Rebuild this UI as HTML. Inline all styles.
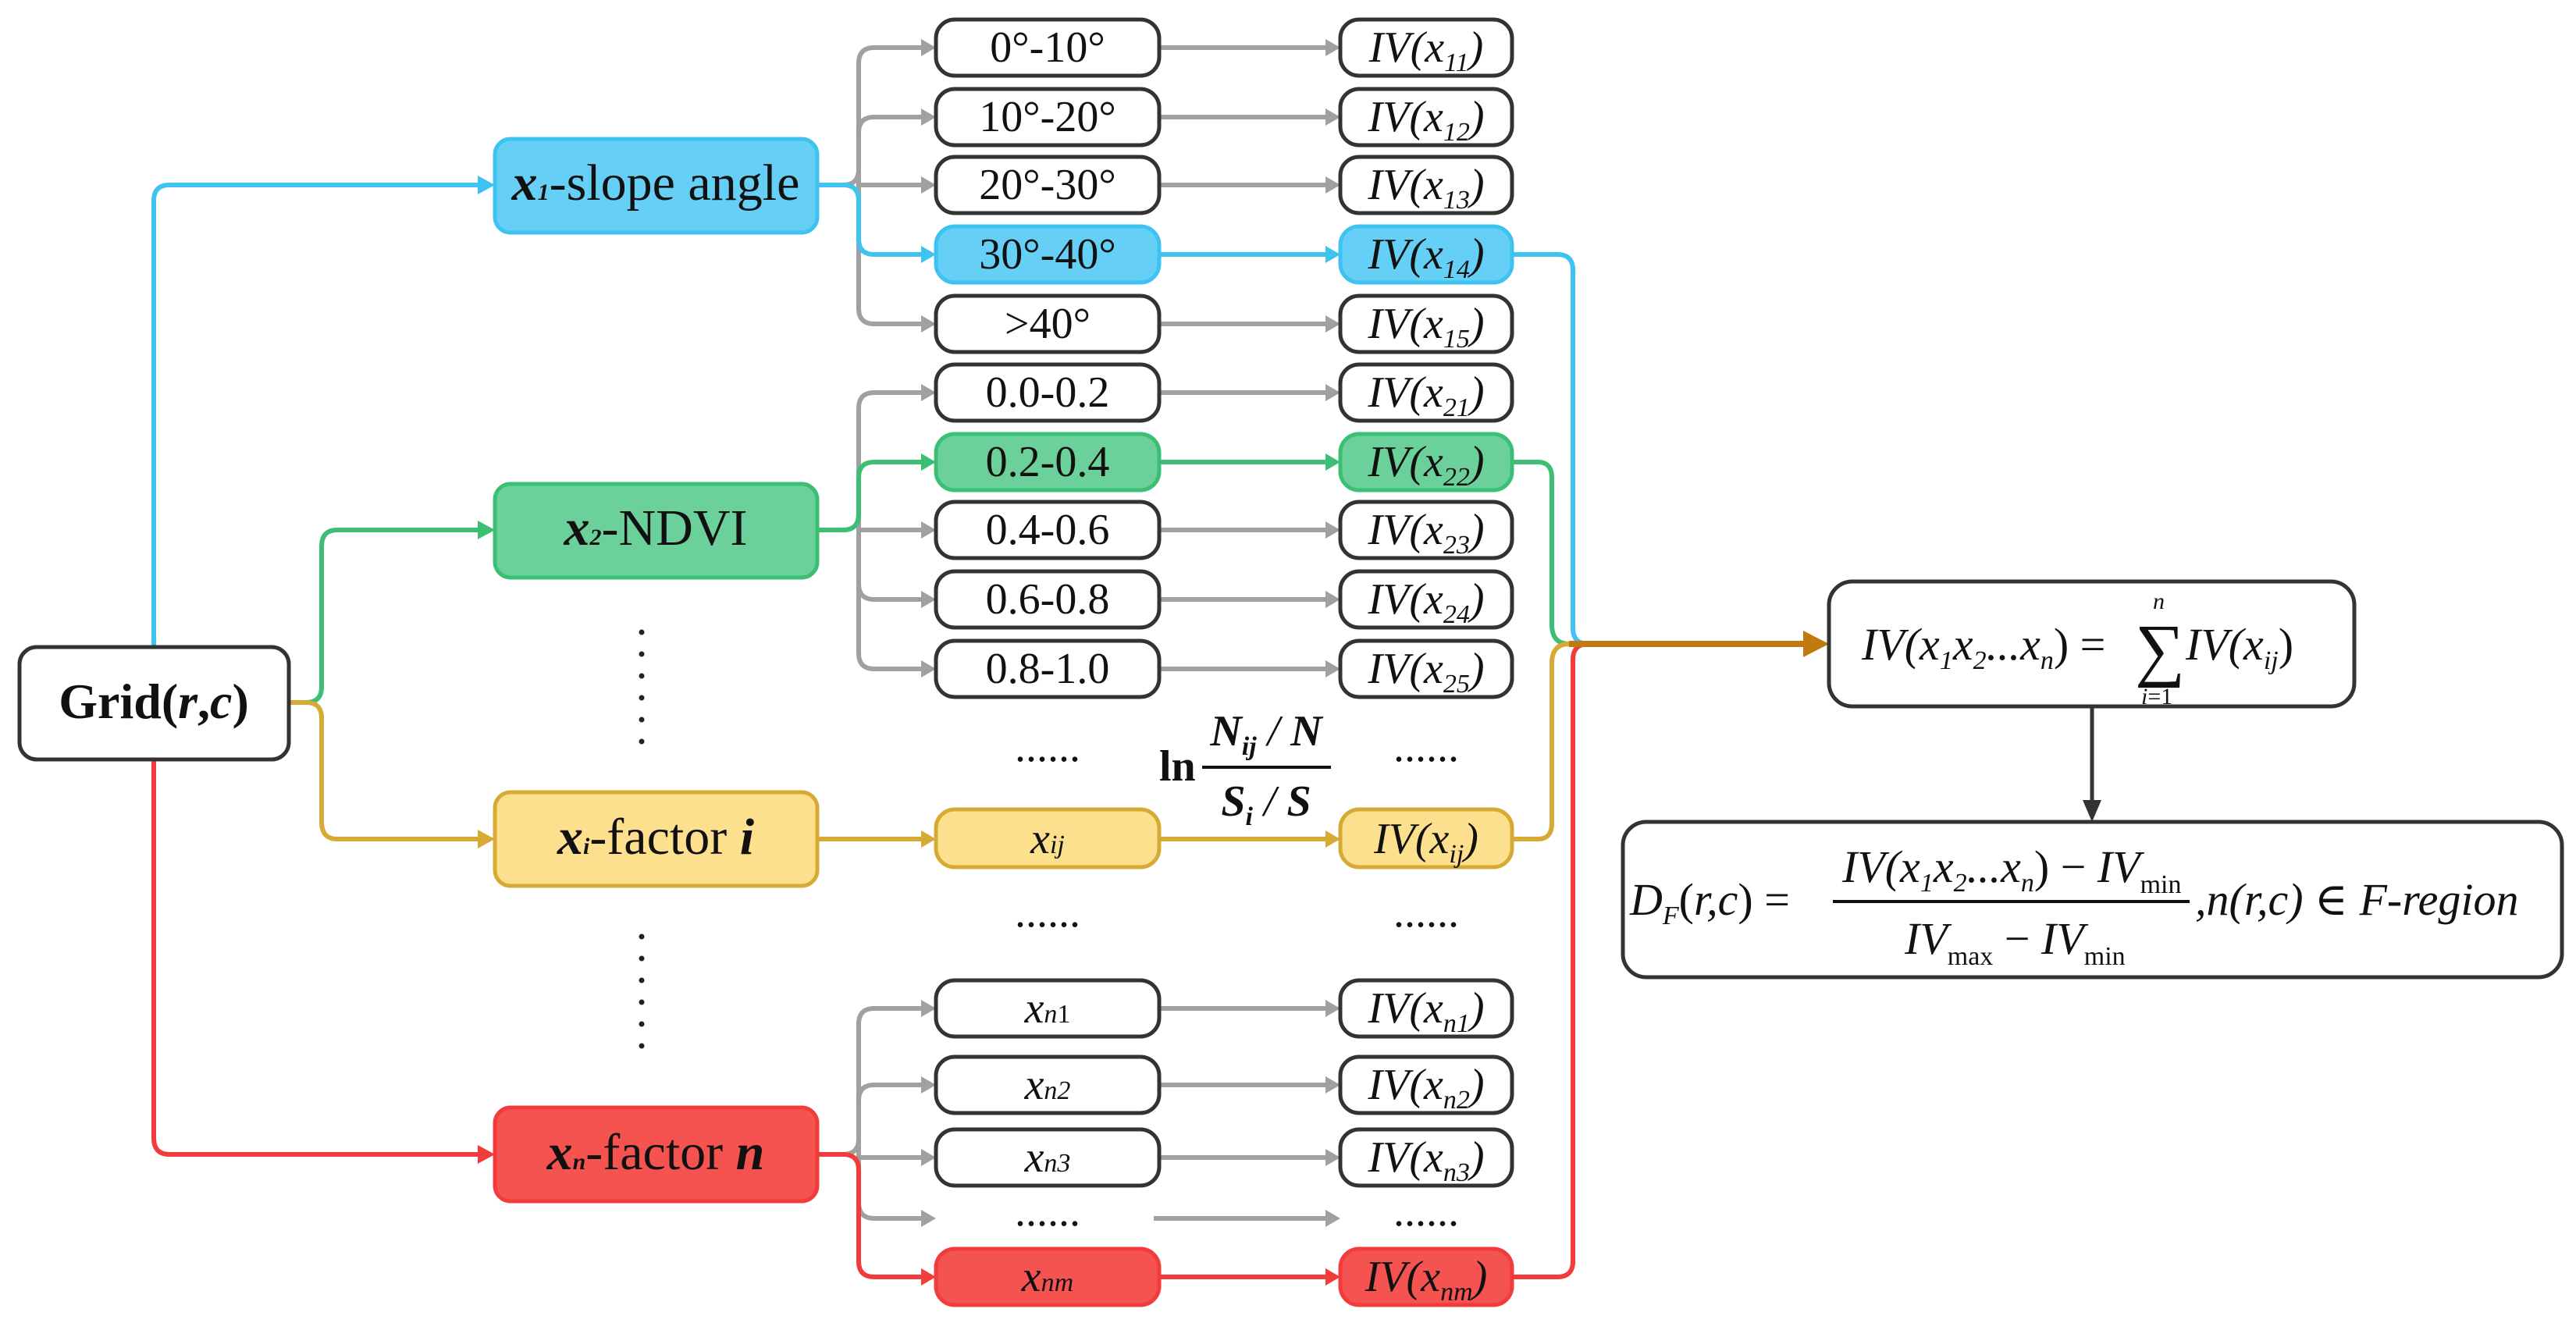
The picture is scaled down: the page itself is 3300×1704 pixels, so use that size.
<!DOCTYPE html>
<html><head><meta charset="utf-8"><style>
html,body{margin:0;padding:0;background:#fff}
svg{display:block;font-family:"Liberation Serif","DejaVu Serif",serif}
svg text{font-family:"Liberation Serif","DejaVu Serif",serif !important;fill:#111}
.m{font-size:56px;text-anchor:middle}
.i{font-style:italic}
.s{font-size:34px}
</style></head><body>
<svg width="3300" height="1704" viewBox="0 0 3300 1704" xmlns="http://www.w3.org/2000/svg" font-family="Liberation Serif, DejaVu Serif, serif">
<style>
.g{fill:none;stroke:#a0a0a0;stroke-width:6}
.bl{fill:none;stroke:#3ec3f0;stroke-width:6}
.gr{fill:none;stroke:#3cbf75;stroke-width:6}
.ye{fill:none;stroke:#d5ab35;stroke-width:6}
.re{fill:none;stroke:#f23c3c;stroke-width:6}
.br{fill:none;stroke:#c07a10;stroke-width:8}
.bx{fill:#fff;stroke:#333;stroke-width:5}
</style>

<path class="bl" d="M197 829 V257 Q197 237 217 237 H615"/>
<polygon points="634,237 612,225 612,249" fill="#3ec3f0"/>
<path class="gr" d="M370 900 H392 Q412 900 412 880 V700 Q412 679 432 679 H615"/>
<polygon points="634,679 612,667 612,691" fill="#3cbf75"/>
<path class="ye" d="M370 900 H392 Q412 900 412 920 V1053 Q412 1075 432 1075 H615"/>
<polygon points="634,1075 612,1063 612,1087" fill="#d5ab35"/>
<path class="re" d="M197 973 V1458 Q197 1479 217 1479 H615"/>
<polygon points="634,1479 612,1467 612,1491" fill="#f23c3c"/>

<g class="g">
<path d="M1047 237 H1080 Q1100 237 1100 217 V81 Q1100 61 1120 61 H1185"/>
<path d="M1100 170 Q1100 150 1120 150 H1185"/>
<path d="M1100 237 H1185"/>
<path d="M1100 217 V395 Q1100 415 1120 415 H1185"/>
<path d="M1047 679 H1080 Q1100 679 1100 659 V523 Q1100 503 1120 503 H1185"/>
<path d="M1100 679 H1185"/>
<path d="M1100 659 V837 Q1100 857 1120 857 H1185"/>
<path d="M1100 748 Q1100 768 1120 768 H1185"/>
<path d="M1047 1479 H1080 Q1100 1479 1100 1459 V1312 Q1100 1292 1120 1292 H1185"/>
<path d="M1100 1410 Q1100 1390 1120 1390 H1185"/>
<path d="M1100 1483 H1185"/>
<path d="M1100 1459 V1541 Q1100 1561 1120 1561 H1185"/>
<path d="M1485 61 H1705 M1485 150 H1705 M1485 237 H1705 M1485 415 H1705 M1485 503 H1705 M1485 679 H1705 M1485 768 H1705 M1485 857 H1705 M1485 1292 H1705 M1485 1390 H1705 M1485 1483 H1705 M1478 1561 H1705"/>
</g>
<g fill="#a0a0a0">
<polygon points="1199,61 1180,50 1180,72"/><polygon points="1199,150 1180,139 1180,161"/><polygon points="1199,237 1180,226 1180,248"/><polygon points="1199,415 1180,404 1180,426"/>
<polygon points="1199,503 1180,492 1180,514"/><polygon points="1199,679 1180,668 1180,690"/><polygon points="1199,768 1180,757 1180,779"/><polygon points="1199,857 1180,846 1180,868"/>
<polygon points="1199,1292 1180,1281 1180,1303"/><polygon points="1199,1390 1180,1379 1180,1401"/><polygon points="1199,1483 1180,1472 1180,1494"/><polygon points="1199,1561 1180,1550 1180,1572"/>
<polygon points="1717,61 1698,50 1698,72"/><polygon points="1717,150 1698,139 1698,161"/><polygon points="1717,237 1698,226 1698,248"/><polygon points="1717,415 1698,404 1698,426"/>
<polygon points="1717,503 1698,492 1698,514"/><polygon points="1717,679 1698,668 1698,690"/><polygon points="1717,768 1698,757 1698,779"/><polygon points="1717,857 1698,846 1698,868"/>
<polygon points="1717,1292 1698,1281 1698,1303"/><polygon points="1717,1390 1698,1379 1698,1401"/><polygon points="1717,1483 1698,1472 1698,1494"/><polygon points="1717,1561 1698,1550 1698,1572"/>
</g>

<path class="bl" d="M1047 237 H1080 Q1100 237 1100 257 V306 Q1100 326 1120 326 H1185 M1485 326 H1705"/>
<polygon points="1199,326 1180,315 1180,337" fill="#3ec3f0"/><polygon points="1717,326 1698,315 1698,337" fill="#3ec3f0"/>
<path class="gr" d="M1047 679 H1080 Q1100 679 1100 659 V612 Q1100 592 1120 592 H1185 M1485 592 H1705"/>
<polygon points="1199,592 1180,581 1180,603" fill="#3cbf75"/><polygon points="1717,592 1698,581 1698,603" fill="#3cbf75"/>
<path class="ye" d="M1047 1075 H1185 M1485 1075 H1705"/>
<polygon points="1199,1075 1180,1064 1180,1086" fill="#d5ab35"/><polygon points="1717,1075 1698,1064 1698,1086" fill="#d5ab35"/>
<path class="re" d="M1047 1479 H1080 Q1100 1479 1100 1499 V1616 Q1100 1636 1120 1636 H1185 M1485 1636 H1705"/>
<polygon points="1199,1636 1180,1625 1180,1647" fill="#f23c3c"/><polygon points="1717,1636 1698,1625 1698,1647" fill="#f23c3c"/>

<path class="bl" d="M1937 326 H1995 Q2015 326 2015 346 V805 Q2015 825 2035 825"/>
<path class="gr" d="M1937 592 H1970 Q1988 592 1988 612 V800 Q1988 825 2010 825"/>
<path class="ye" d="M1937 1075 H1970 Q1988 1075 1988 1055 V850 Q1988 825 2010 825"/>
<path class="re" d="M1937 1636 H1995 Q2015 1636 2015 1616 V845 Q2015 825 2035 825"/>
<path class="br" d="M2010 825 H2315"/>
<polygon points="2343,825 2310,808 2310,842" fill="#c07a10"/>
<path d="M2680 905 V1030" stroke="#333" stroke-width="5" fill="none"/>
<polygon points="2680,1053 2668,1025 2692,1025" fill="#333"/>

<rect x="25" y="829" width="345" height="144" rx="22" class="bx"/>
<text x="197" y="920" class="m" style="font-size:64px;font-weight:bold">Grid(<tspan class="i">r</tspan>,<tspan class="i">c</tspan>)</text>
<rect x="634" y="178" width="413" height="120" rx="20" fill="#66cff5" stroke="#3ec3f0" stroke-width="5"/>
<text x="840" y="256" class="m" style="font-size:66px"><tspan class="i" font-weight="bold">x</tspan><tspan font-size="30" class="i" font-weight="bold">1</tspan>-slope angle</text>
<rect x="634" y="620" width="413" height="120" rx="20" fill="#6bd09a" stroke="#3cbf75" stroke-width="5"/>
<text x="840" y="698" class="m" style="font-size:66px"><tspan class="i" font-weight="bold">x</tspan><tspan font-size="30" class="i" font-weight="bold">2</tspan>-NDVI</text>
<rect x="634" y="1015" width="413" height="120" rx="20" fill="#fde08e" stroke="#d5ab35" stroke-width="5"/>
<text x="840" y="1094" class="m" style="font-size:66px"><tspan class="i" font-weight="bold">x</tspan><tspan font-size="30" class="i" font-weight="bold">i</tspan>-factor <tspan class="i" font-weight="bold">i</tspan></text>
<rect x="634" y="1419" width="413" height="120" rx="20" fill="#f4534f" stroke="#f23c3c" stroke-width="5"/>
<text x="840" y="1498" class="m" style="font-size:66px"><tspan class="i" font-weight="bold">x</tspan><tspan font-size="30" class="i" font-weight="bold">n</tspan>-factor <tspan class="i" font-weight="bold">n</tspan></text>

<g fill="#222"><circle cx="822" cy="810" r="3.5"/><circle cx="822" cy="838" r="3.5"/><circle cx="822" cy="866" r="3.5"/><circle cx="822" cy="894" r="3.5"/><circle cx="822" cy="922" r="3.5"/><circle cx="822" cy="950" r="3.5"/>
<circle cx="822" cy="1200" r="3.5"/><circle cx="822" cy="1228" r="3.5"/><circle cx="822" cy="1256" r="3.5"/><circle cx="822" cy="1284" r="3.5"/><circle cx="822" cy="1312" r="3.5"/><circle cx="822" cy="1340" r="3.5"/></g>

<g class="bx">
<rect x="1199" y="25" width="286" height="72" rx="24"/><rect x="1199" y="114" width="286" height="72" rx="24"/><rect x="1199" y="201" width="286" height="72" rx="24"/>
<rect x="1199" y="379" width="286" height="72" rx="24"/><rect x="1199" y="467" width="286" height="72" rx="24"/>
<rect x="1199" y="643" width="286" height="72" rx="24"/><rect x="1199" y="732" width="286" height="72" rx="24"/><rect x="1199" y="821" width="286" height="72" rx="24"/>
<rect x="1199" y="1256" width="286" height="72" rx="24"/><rect x="1199" y="1354" width="286" height="72" rx="24"/><rect x="1199" y="1447" width="286" height="72" rx="24"/>
<rect x="1717" y="25" width="220" height="72" rx="24"/><rect x="1717" y="114" width="220" height="72" rx="24"/><rect x="1717" y="201" width="220" height="72" rx="24"/>
<rect x="1717" y="379" width="220" height="72" rx="24"/><rect x="1717" y="467" width="220" height="72" rx="24"/>
<rect x="1717" y="643" width="220" height="72" rx="24"/><rect x="1717" y="732" width="220" height="72" rx="24"/><rect x="1717" y="821" width="220" height="72" rx="24"/>
<rect x="1717" y="1256" width="220" height="72" rx="24"/><rect x="1717" y="1354" width="220" height="72" rx="24"/><rect x="1717" y="1447" width="220" height="72" rx="24"/>
</g>
<rect x="1199" y="290" width="286" height="72" rx="24" fill="#66cff5" stroke="#3ec3f0" stroke-width="5"/>
<rect x="1717" y="290" width="220" height="72" rx="24" fill="#66cff5" stroke="#3ec3f0" stroke-width="5"/>
<rect x="1199" y="556" width="286" height="72" rx="24" fill="#6bd09a" stroke="#3cbf75" stroke-width="5"/>
<rect x="1717" y="556" width="220" height="72" rx="24" fill="#6bd09a" stroke="#3cbf75" stroke-width="5"/>
<rect x="1199" y="1037" width="286" height="74" rx="24" fill="#fde08e" stroke="#d5ab35" stroke-width="5"/>
<rect x="1717" y="1037" width="220" height="74" rx="24" fill="#fde08e" stroke="#d5ab35" stroke-width="5"/>
<rect x="1199" y="1600" width="286" height="72" rx="24" fill="#f4534f" stroke="#f23c3c" stroke-width="5"/>
<rect x="1717" y="1600" width="220" height="72" rx="24" fill="#f4534f" stroke="#f23c3c" stroke-width="5"/>

<g class="m">
<text x="1342" y="79">0°-10°</text><text x="1342" y="168">10°-20°</text><text x="1342" y="255">20°-30°</text><text x="1342" y="344">30°-40°</text><text x="1342" y="433">&gt;40°</text>
<text x="1342" y="521">0.0-0.2</text><text x="1342" y="610">0.2-0.4</text><text x="1342" y="697">0.4-0.6</text><text x="1342" y="786">0.6-0.8</text><text x="1342" y="875">0.8-1.0</text>
<text x="1342" y="1093" class="i">x<tspan class="s">ij</tspan></text>
<text x="1342" y="1310" class="i">x<tspan class="s">n</tspan><tspan class="s" font-style="normal">1</tspan></text>
<text x="1342" y="1408" class="i">x<tspan class="s">n2</tspan></text>
<text x="1342" y="1501" class="i">x<tspan class="s">n3</tspan></text>
<text x="1342" y="1654" class="i">x<tspan class="s">nm</tspan></text>
<text x="1342" y="975">......</text><text x="1342" y="1187">......</text><text x="1342" y="1570">......</text>
<text x="1827" y="975">......</text><text x="1827" y="1187">......</text><text x="1827" y="1570">......</text>
</g>
<g class="m i">
<text x="1827" y="79">IV(x<tspan class="s" dy="12">11</tspan><tspan dy="-12">)</tspan></text>
<text x="1827" y="168">IV(x<tspan class="s" dy="12">12</tspan><tspan dy="-12">)</tspan></text>
<text x="1827" y="255">IV(x<tspan class="s" dy="12">13</tspan><tspan dy="-12">)</tspan></text>
<text x="1827" y="344">IV(x<tspan class="s" dy="12">14</tspan><tspan dy="-12">)</tspan></text>
<text x="1827" y="433">IV(x<tspan class="s" dy="12">15</tspan><tspan dy="-12">)</tspan></text>
<text x="1827" y="521">IV(x<tspan class="s" dy="12">21</tspan><tspan dy="-12">)</tspan></text>
<text x="1827" y="610">IV(x<tspan class="s" dy="12">22</tspan><tspan dy="-12">)</tspan></text>
<text x="1827" y="697">IV(x<tspan class="s" dy="12">23</tspan><tspan dy="-12">)</tspan></text>
<text x="1827" y="786">IV(x<tspan class="s" dy="12">24</tspan><tspan dy="-12">)</tspan></text>
<text x="1827" y="875">IV(x<tspan class="s" dy="12">25</tspan><tspan dy="-12">)</tspan></text>
<text x="1827" y="1093">IV(x<tspan class="s" dy="12">ij</tspan><tspan dy="-12">)</tspan></text>
<text x="1827" y="1310">IV(x<tspan class="s" dy="12">n1</tspan><tspan dy="-12">)</tspan></text>
<text x="1827" y="1408">IV(x<tspan class="s" dy="12">n2</tspan><tspan dy="-12">)</tspan></text>
<text x="1827" y="1501">IV(x<tspan class="s" dy="12">n3</tspan><tspan dy="-12">)</tspan></text>
<text x="1827" y="1654">IV(x<tspan class="s" dy="12">nm</tspan><tspan dy="-12">)</tspan></text>
</g>

<text x="1485" y="1000" style="font-size:56px;font-weight:bold">ln</text>
<line x1="1540" y1="983" x2="1705" y2="983" stroke="#111" stroke-width="4"/>
<text x="1622" y="955" class="m i" style="font-weight:bold;font-size:56px">N<tspan class="s" dy="12">ij</tspan><tspan dy="-12" font-weight="normal"> / </tspan>N</text>
<text x="1622" y="1045" class="m i" style="font-weight:bold;font-size:56px">S<tspan class="s" dy="12">i</tspan><tspan dy="-12" font-weight="normal"> / </tspan>S</text>

<rect x="2343" y="745" width="673" height="160" rx="30" class="bx"/>
<text x="2385" y="845" class="i" style="font-size:58px">IV(x<tspan class="s" dy="12">1</tspan><tspan dy="-12">x</tspan><tspan class="s" dy="12">2</tspan><tspan dy="-12">...x</tspan><tspan class="s" dy="12">n</tspan><tspan dy="-12" font-style="normal">) =</tspan></text>
<text x="2735" y="862" style="font-size:90px">∑</text>
<text x="2758" y="780" class="i" style="font-size:30px">n</text>
<text x="2743" y="902" class="i" style="font-size:30px">i<tspan font-style="normal">=1</tspan></text>
<text x="2800" y="845" class="i" style="font-size:58px">IV(x<tspan class="s" dy="12">ij</tspan><tspan dy="-12" font-style="normal">)</tspan></text>

<rect x="2079" y="1053" width="1203" height="199" rx="30" class="bx"/>
<text x="2088" y="1172" class="i" style="font-size:58px">D<tspan class="s" dy="12">F</tspan><tspan dy="-12" font-style="normal">(</tspan>r,c<tspan font-style="normal">) =</tspan></text>
<line x1="2348" y1="1155" x2="2805" y2="1155" stroke="#111" stroke-width="4"/>
<text x="2360" y="1130" class="i" style="font-size:58px">IV(x<tspan class="s" dy="12">1</tspan><tspan dy="-12">x</tspan><tspan class="s" dy="12">2</tspan><tspan dy="-12">...x</tspan><tspan class="s" dy="12">n</tspan><tspan dy="-12" font-style="normal">) − </tspan>IV<tspan class="s" dy="14" font-style="normal">min</tspan></text>
<text x="2440" y="1222" class="i" style="font-size:58px">IV<tspan class="s" dy="14" font-style="normal">max</tspan><tspan dy="-14" font-style="normal"> − </tspan>IV<tspan class="s" dy="14" font-style="normal">min</tspan></text>
<text x="2812" y="1172" class="i" style="font-size:58px">,n(r,c) ∈ F-region</text>
</svg>
</body></html>
